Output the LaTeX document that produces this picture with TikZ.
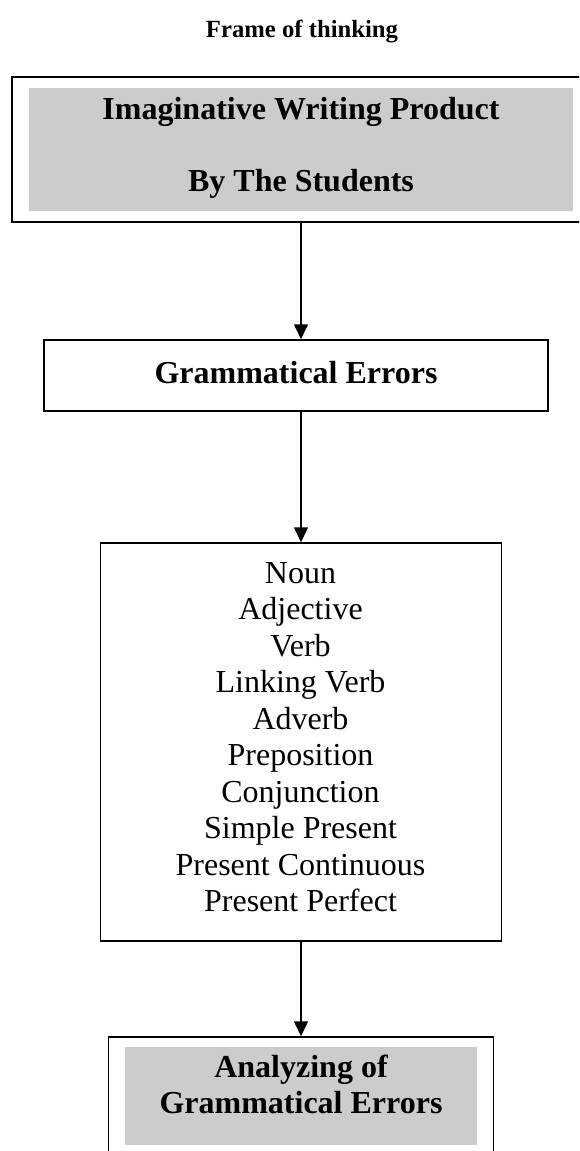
\documentclass[tikz,border=0pt]{standalone}
\usepackage{fontspec}
\setmainfont{Liberation Serif}
\usetikzlibrary{arrows.meta}
\definecolor{boxgray}{RGB}{204,204,204}
\begin{document}
\begin{tikzpicture}[x=1pt,y=-1pt,
  frame/.style={draw=black, line width=1.5pt, rectangle, inner sep=0pt},
  shadebox/.style={fill=boxgray, draw=none, rectangle, inner sep=0pt},
  boldtext/.style={font=\fontsize{32}{36}\selectfont\bfseries, inner sep=0pt, anchor=base},
  itemtext/.style={font=\fontsize{32}{36}\selectfont, inner sep=0pt, anchor=base},
  arr/.style={line width=1.5pt, -{Triangle[length=15pt,width=14pt]}}]
\useasboundingbox (0,0) rectangle (579,1151);
\clip (0,0) rectangle (579,1151);

% title
\node[font=\fontsize{24.7}{30}\selectfont\bfseries, inner sep=0pt, anchor=base] (title) at (302,37) {Frame of thinking};

% top box
\node[shadebox, minimum width=544pt, minimum height=123pt] (topin) at (301,149.5) {};
\node[frame, minimum width=578pt, minimum height=145pt] (top) at (301,149.5) {};
\node[boldtext] (t1) at (301,119) {Imaginative Writing Product};
\node[boldtext] (t2) at (301,191) {By The Students};

% grammatical errors box
\node[frame, minimum width=504pt, minimum height=71pt] (gram) at (296,375.5) {};
\node[boldtext] (g1) at (296,383) {Grammatical Errors};

% middle list box
\node[frame, minimum width=401pt, minimum height=398pt] (mid) at (301,742) {};
\foreach \t [count=\i from 0] in {Noun,Adjective,Verb,Linking Verb,Adverb,Preposition,Conjunction,Simple Present,Present Continuous,Present Perfect}
  \node[itemtext] (item\i) at (300.5,{583+\i*36.5}) {\t};

% bottom box
\node[shadebox, minimum width=352pt, minimum height=98pt] (botin) at (301,1096) {};
\node[frame, minimum width=385pt, minimum height=121pt] (bot) at (301,1097.5) {};
\node[boldtext] (b1) at (301,1077) {Analyzing of};
\node[boldtext] (b2) at (301,1113) {Grammatical Errors};

% connectors
\draw[arr] (top.south) -- (top.south |- gram.north);
\draw[arr] (mid.north |- gram.south) -- (mid.north);
\draw[arr] (mid.south) -- (bot.north);
\end{tikzpicture}
\end{document}
